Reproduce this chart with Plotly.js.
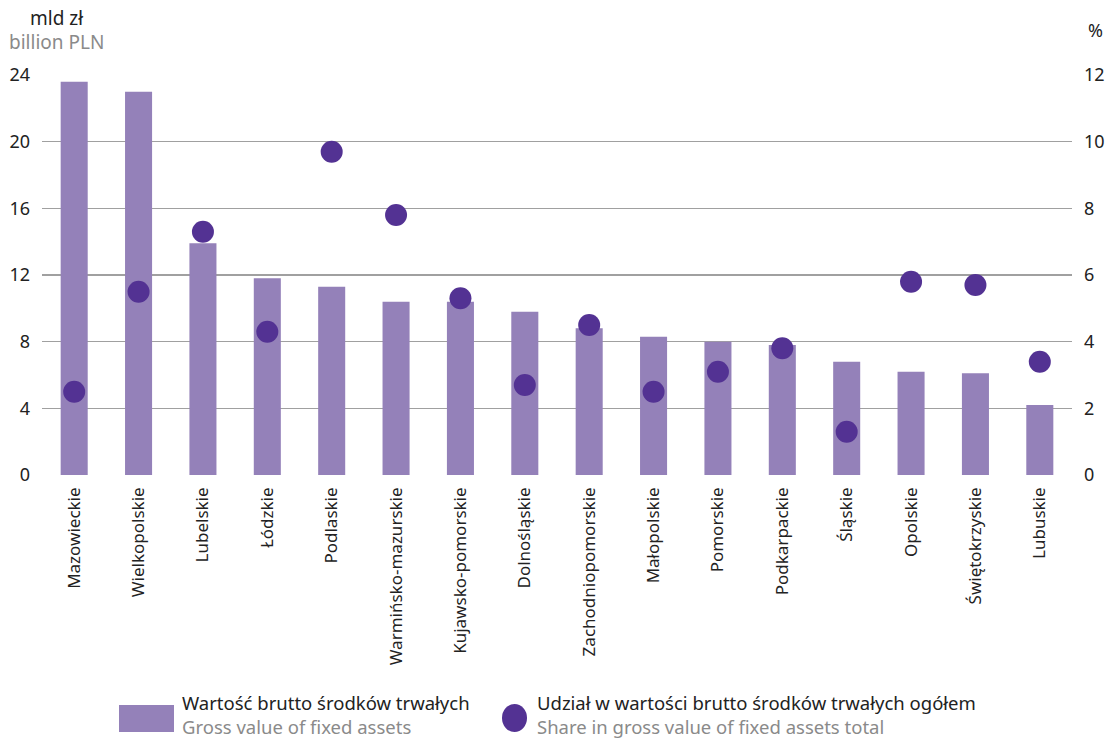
<!DOCTYPE html>
<html><head><meta charset="utf-8">
<script src="https://cdn.plot.ly/plotly-3.0.1.min.js"></script>
<style>html,body{margin:0;padding:0;background:#fff}</style>
</head><body>
<div id="chart" style="width:1107px;height:738px"></div>
<script>
const regions = ["Mazowieckie","Wielkopolskie","Lubelskie","Łódzkie","Podlaskie","Warmińsko-mazurskie","Kujawsko-pomorskie","Dolnośląskie","Zachodniopomorskie","Małopolskie","Pomorskie","Podkarpackie","Śląskie","Opolskie","Świętokrzyskie","Lubuskie"];
const grossValue = [23.6,23.0,13.9,11.8,11.3,10.4,10.4,9.8,8.8,8.3,8.0,7.8,6.8,6.2,6.1,4.2];
const sharePct = [2.5,5.5,7.3,4.3,9.7,7.8,5.3,2.7,4.5,2.5,3.1,3.8,1.3,5.8,5.7,3.4];
const leftTicks = [0,4,8,12,16,20,24];
const rightTicks = [0,2,4,6,8,10,12];
const legendBarPL = "Wartość brutto środków trwałych";
const legendBarEN = "Gross value of fixed assets";
const legendDotPL = "Udział w wartości brutto środków trwałych ogółem";
const legendDotEN = "Share in gross value of fixed assets total";

const FONT = "Noto Sans, Open Sans, sans-serif";
const barColor = "#9481b9";
const dotColor = "#533293";
const GRAY = "#8a8a8a";
const W = 1107, H = 738, ml = 42, mr = 35, mt = 75, mb = 263;
const pw = W - ml - mr, ph = H - mt - mb;
const px = x => (x - ml) / pw;
const py = y => (H - mb - y) / ph;

const traces = [
  {type:'bar', x: regions, y: grossValue, marker:{color: barColor}, width:0.42, yaxis:'y', showlegend:false, hoverinfo:'x+y'},
  {type:'scatter', mode:'markers', x: regions, y: sharePct, yaxis:'y2', marker:{color: dotColor, size:22, symbol:'circle'}, showlegend:false, cliponaxis:false}
];

const legFont = 18.5;
const ann = (x, y, text, color, size, anchor) => ({xref:'paper', yref:'paper', x:px(x), y:py(y), xanchor:anchor||'left', yanchor:'middle', showarrow:false, borderpad:0, text:text, font:{size:size, color:color}});

const layout = {
  width: W, height: H,
  margin:{l:ml, r:mr, t:mt, b:mb, pad:0},
  paper_bgcolor:'#fff', plot_bgcolor:'#fff',
  font:{family: FONT, color:'#222', size:18},
  xaxis:{type:'category', tickangle:-90, showgrid:false, zeroline:false, showline:false, ticks:'', ticklabelstandoff:8, tickfont:{size:17, color:'#222'}, range:[-0.5, regions.length-0.5]},
  yaxis:{range:[0,24], tickvals:leftTicks, showgrid:true, gridcolor:'#a0a0a0', gridwidth:1.3, zeroline:false, showline:false, ticks:'', ticklabelstandoff:11, tickfont:{size:18, color:'#222'}},
  yaxis2:{range:[0,12], tickvals:rightTicks, overlaying:'y', side:'right', showgrid:false, zeroline:false, showline:false, ticks:'', ticklabelstandoff:11, tickfont:{size:18, color:'#222'}},
  shapes:[
    {type:'rect', xref:'paper', yref:'paper', x0:px(119), x1:px(174), y0:py(732), y1:py(705), fillcolor:barColor, line:{width:0}},
    {type:'circle', xref:'paper', yref:'paper', x0:px(502), x1:px(527), y0:py(732), y1:py(704), fillcolor:dotColor, line:{width:0}}
  ],
  annotations:[
    ann(29, 18, 'mld zł', '#222', 19),
    ann(8, 42, 'billion PLN', GRAY, 19),
    ann(1104, 30, '%', '#222', 18, 'right'),
    ann(181, 703, legendBarPL, '#222', legFont),
    ann(181, 726, legendBarEN, GRAY, legFont),
    ann(536, 703, legendDotPL, '#222', legFont),
    ann(536, 726, legendDotEN, GRAY, legFont)
  ]
};
Plotly.newPlot('chart', traces, layout, {displayModeBar:false, staticPlot:true});
</script>
</body></html>
